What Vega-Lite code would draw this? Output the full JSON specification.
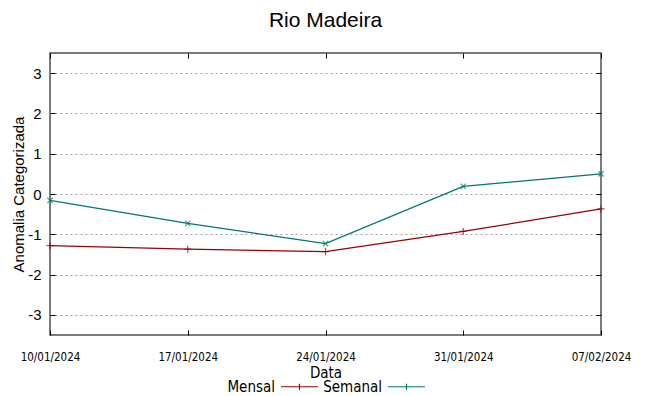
{
  "$schema": "https://vega.github.io/schema/vega-lite/v6.json",
  "autosize": "none",
  "width": 551,
  "height": 282,
  "padding": {"left": 50, "top": 53, "right": 48, "bottom": 61},
  "background": "white",
  "title": {"text": "Rio Madeira", "fontSize": 21, "font": "Liberation Sans", "fontWeight": "normal", "color": "#000000", "anchor": "middle", "offset": 22},
  "config": {
    "view": {"stroke": "#505050", "strokeWidth": 1.5},
    "axis": {"labelFont": "Liberation Sans", "titleFont": "Liberation Sans", "labelColor": "#000000", "titleColor": "#000000", "titleFontWeight": "normal"},
    "legend": {"labelFont": "DejaVu Sans Condensed, Liberation Sans"}
  },
  "data": {"values": [
    {"data": "2024-01-10", "serie": "Mensal", "valor": -1.28},
    {"data": "2024-01-17", "serie": "Mensal", "valor": -1.37},
    {"data": "2024-01-24", "serie": "Mensal", "valor": -1.43},
    {"data": "2024-01-31", "serie": "Mensal", "valor": -0.93},
    {"data": "2024-02-07", "serie": "Mensal", "valor": -0.37},
    {"data": "2024-01-10", "serie": "Semanal", "valor": -0.16},
    {"data": "2024-01-17", "serie": "Semanal", "valor": -0.73},
    {"data": "2024-01-24", "serie": "Semanal", "valor": -1.23},
    {"data": "2024-01-31", "serie": "Semanal", "valor": 0.19},
    {"data": "2024-02-07", "serie": "Semanal", "valor": 0.5}
  ]},
  "layer": [
    {
      "encoding": {
        "x": {"field": "data", "type": "temporal",
          "scale": {"type": "utc", "domain": [{"year": 2024, "month": 1, "date": 10, "utc": true}, {"year": 2024, "month": 2, "date": 7, "utc": true}]},
          "axis": {"title": "Data", "format": "%d/%m/%Y",
            "values": [{"year": 2024, "month": 1, "date": 10, "utc": true}, {"year": 2024, "month": 1, "date": 17, "utc": true}, {"year": 2024, "month": 1, "date": 24, "utc": true}, {"year": 2024, "month": 1, "date": 31, "utc": true}, {"year": 2024, "month": 2, "date": 7, "utc": true}],
            "grid": false, "domain": false, "tickSize": -5, "tickColor": "#000000", "labelPadding": 21, "labelFontSize": 11.5, "labelFont": "DejaVu Sans Condensed, Liberation Sans", "labelFlush": false, "titleFontSize": 15, "titleFont": "DejaVu Sans Condensed, Liberation Sans", "titlePadding": 3}},
        "y": {"field": "valor", "type": "quantitative",
          "scale": {"domain": [-3.5, 3.5], "nice": false},
          "axis": {"title": "Anomalia Categorizada", "values": [-3, -2, -1, 0, 1, 2, 3], "labelExpr": "'' + datum.value", "grid": true, "gridColor": "#a0a0a0", "gridDash": [2, 3], "gridWidth": 1, "domain": false, "tickSize": -5, "tickColor": "#000000", "labelPadding": 14, "labelFontSize": 15, "titleFontSize": 15, "titlePadding": 1}},
        "color": {"field": "serie", "type": "nominal", "scale": {"domain": ["Mensal", "Semanal"], "range": ["#9b0000", "#007575"]},
          "legend": {"title": null, "orient": "none", "legendX": 230, "legendY": 314, "direction": "horizontal", "symbolType": "M-1,0H1M0,-0.16V0.16", "symbolSize": 1369, "symbolStrokeWidth": 1.2, "symbolFillColor": "transparent", "symbolOpacity": 1, "labelAlign": "right", "labelOffset": -44, "labelFontSize": 15, "labelFont": "DejaVu Sans Condensed, Liberation Sans", "columnPadding": 2}}
      },
      "layer": [
        {"mark": {"type": "line", "strokeWidth": 1.3}},
        {"transform": [{"filter": "datum.serie === 'Mensal'"}],
         "mark": {"type": "point", "filled": false, "strokeWidth": 1.2, "size": 50, "shape": "M-1,0H1M0,-1V1"}},
        {"transform": [{"filter": "datum.serie === 'Semanal'"}],
         "mark": {"type": "point", "filled": false, "strokeWidth": 1.2, "size": 50, "shape": "M-0.75,-0.75L0.75,0.75M-0.75,0.75L0.75,-0.75"}}
      ]
    },
    {
      "mark": {"type": "point", "opacity": 0},
      "encoding": {
        "x": {"field": "data", "type": "temporal", "axis": {"orient": "top", "title": null, "labels": false, "grid": false, "domain": false, "tickSize": -5, "tickColor": "#000000",
          "values": [{"year": 2024, "month": 1, "date": 10, "utc": true}, {"year": 2024, "month": 1, "date": 17, "utc": true}, {"year": 2024, "month": 1, "date": 24, "utc": true}, {"year": 2024, "month": 1, "date": 31, "utc": true}, {"year": 2024, "month": 2, "date": 7, "utc": true}]}},
        "y": {"field": "valor", "type": "quantitative", "axis": {"orient": "right", "title": null, "labels": false, "grid": false, "domain": false, "tickSize": -5, "tickColor": "#000000", "values": [-3, -2, -1, 0, 1, 2, 3]}}
      }
    }
  ],
  "resolve": {"axis": {"x": "independent", "y": "independent"}}
}
